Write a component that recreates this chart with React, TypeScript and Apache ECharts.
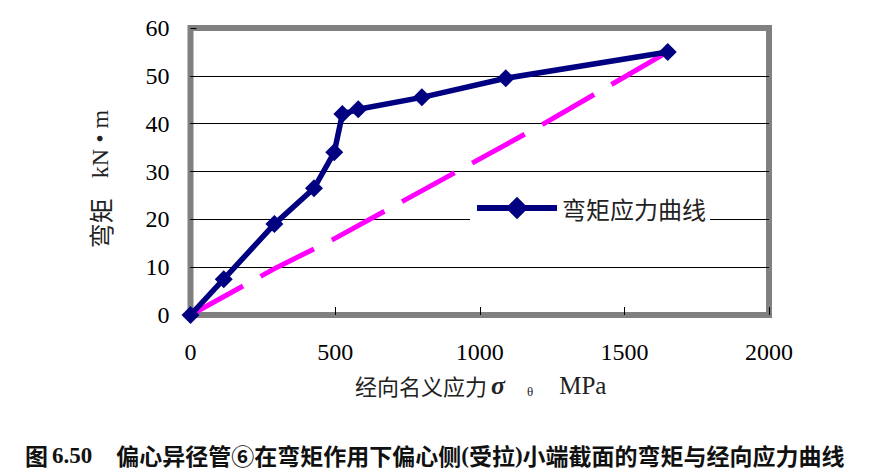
import React, { useEffect, useRef } from 'react';
import * as echarts from 'echarts';

// Measured curve: nominal hoop stress (MPa) vs bending moment (kN·m)
const stressX = [0, 115, 290, 427, 497, 525, 580, 800, 1090, 1650];
const momentY = [0, 7.5, 19, 26.5, 34, 42, 43, 45.5, 49.5, 55];

// Dashed magenta reference line
const refX = [0, 300, 490, 900, 1210, 1650];
const refY = [0, 10, 15.7, 29.3, 39.6, 55];

const xMin = 0;
const xMax = 2000;
const xStep = 500;
const yMin = 0;
const yMax = 60;
const yStep = 10;

const seriesName = '弯矩应力曲线';
const yTitleCn = '弯矩';
const yTitleUnit = 'kN • m';
const xTitleCn = '经向名义应力';
const xTitleUnit = 'MPa';
const captionNo = '6.50';
const captionA = '偏心异径管⑥在弯矩作用下偏心侧';
const captionB = '受拉';
const captionC = '小端截面的弯矩与经向应力曲线';

const CJK = 'Noto Sans CJK SC';
const SERIF = 'Liberation Serif';

export default function App() {
  const ref = useRef<HTMLDivElement>(null);
  useEffect(() => {
    const chart = echarts.init(ref.current as HTMLDivElement, null, { renderer: 'svg' });
    chart.setOption({
      animation: false,
      backgroundColor: '#fff',
      grid: {
        left: 190.5,
        right: 100,
        top: 28,
        bottom: 159,
        show: true,
        borderColor: '#808080',
        borderWidth: 6,
        backgroundColor: 'transparent',
      },
      xAxis: {
        type: 'value',
        min: xMin,
        max: xMax,
        interval: xStep,
        axisLine: { show: false },
        axisTick: { show: true, inside: true, length: 8, lineStyle: { color: '#000', width: 1 } },
        splitLine: { show: false },
        axisLabel: {
          margin: 25,
          fontFamily: SERIF,
          fontSize: 24,
          color: '#000',
          formatter: (v: number) => String(v),
        },
      },
      yAxis: {
        type: 'value',
        min: yMin,
        max: yMax,
        interval: yStep,
        axisLine: { show: false },
        axisTick: { show: true, inside: true, length: 6, lineStyle: { color: '#000', width: 1 } },
        splitLine: {
          show: true,
          showMinLine: false,
          showMaxLine: false,
          lineStyle: { color: '#000', width: 1 },
        },
        axisLabel: {
          margin: 21,
          fontFamily: SERIF,
          fontSize: 24,
          color: '#000',
          formatter: (v: number) => String(v),
        },
      },
      legend: {
        data: [seriesName],
        left: 470,
        top: 196,
        itemWidth: 80,
        itemHeight: 28,
        padding: [0, 4, 0, 4],
        backgroundColor: '#fff',
        lineStyle: { width: 6, color: '#000080' },
        itemStyle: { color: '#000080' },
        textStyle: { fontFamily: CJK, fontSize: 24, color: '#222' },
      },
      series: [
        {
          name: 'ref',
          type: 'line',
          data: refX.map((x, i) => [x, refY[i]]),
          symbol: 'none',
          clip: false,
          lineStyle: { color: '#FF00FF', width: 5, type: [60, 20] },
          z: 2,
        },
        {
          name: seriesName,
          type: 'line',
          data: stressX.map((x, i) => [x, momentY[i]]),
          symbol: 'diamond',
          symbolSize: 18,
          clip: false,
          lineStyle: { color: '#000080', width: 5.5 },
          itemStyle: { color: '#000080' },
          z: 3,
        },
      ],
      graphic: [
        {
          type: 'text',
          x: 100,
          y: 179,
          rotation: Math.PI / 2,
          style: {
            text: `{a|${yTitleCn}}{b|${yTitleUnit}}`,
            align: 'center',
            verticalAlign: 'middle',
            rich: {
              a: { fontFamily: CJK, fontSize: 25, fill: '#222' },
              b: { fontFamily: SERIF, fontSize: 24, fill: '#222', padding: [0, 0, 0, 20] },
            },
          },
        },
        {
          type: 'text',
          x: 355,
          y: 385,
          style: {
            text: `{a|${xTitleCn}}{s|σ}{t|θ}{m|${xTitleUnit}}`,
            align: 'left',
            verticalAlign: 'middle',
            rich: {
              a: { fontFamily: CJK, fontSize: 22, fill: '#222' },
              s: { fontFamily: SERIF, fontSize: 26, fontStyle: 'italic', fontWeight: 'bold', fill: '#222', padding: [0, 0, 0, 4] },
              t: { fontFamily: SERIF, fontSize: 13, fill: '#222', verticalAlign: 'bottom', padding: [0, 0, 0, 22] },
              m: { fontFamily: SERIF, fontSize: 25, fill: '#222', padding: [0, 0, 0, 26] },
            },
          },
        },
        {
          type: 'text',
          x: 25,
          y: 455,
          style: {
            text: `{h|图}{n|${captionNo}}{a|${captionA}}{p|(}{a|${captionB}}{p|)}{a|${captionC}}`,
            align: 'left',
            verticalAlign: 'middle',
            rich: {
              h: { fontFamily: CJK, fontWeight: 'bold', fontSize: 23, fill: '#111', padding: [0, 4, 0, 0] },
              n: { fontFamily: SERIF, fontWeight: 'bold', fontSize: 23, fill: '#111', padding: [0, 24, 0, 0] },
              a: { fontFamily: CJK, fontWeight: 'bold', fontSize: 23, fill: '#111' },
              p: { fontFamily: SERIF, fontWeight: 'bold', fontSize: 23, fill: '#111' },
            },
          },
        },
      ],
    });
    return () => chart.dispose();
  }, []);
  return (
    <div
      ref={ref}
      style={{ position: 'fixed', left: 0, top: 0, width: 869, height: 474, background: '#fff' }}
    />
  );
}
